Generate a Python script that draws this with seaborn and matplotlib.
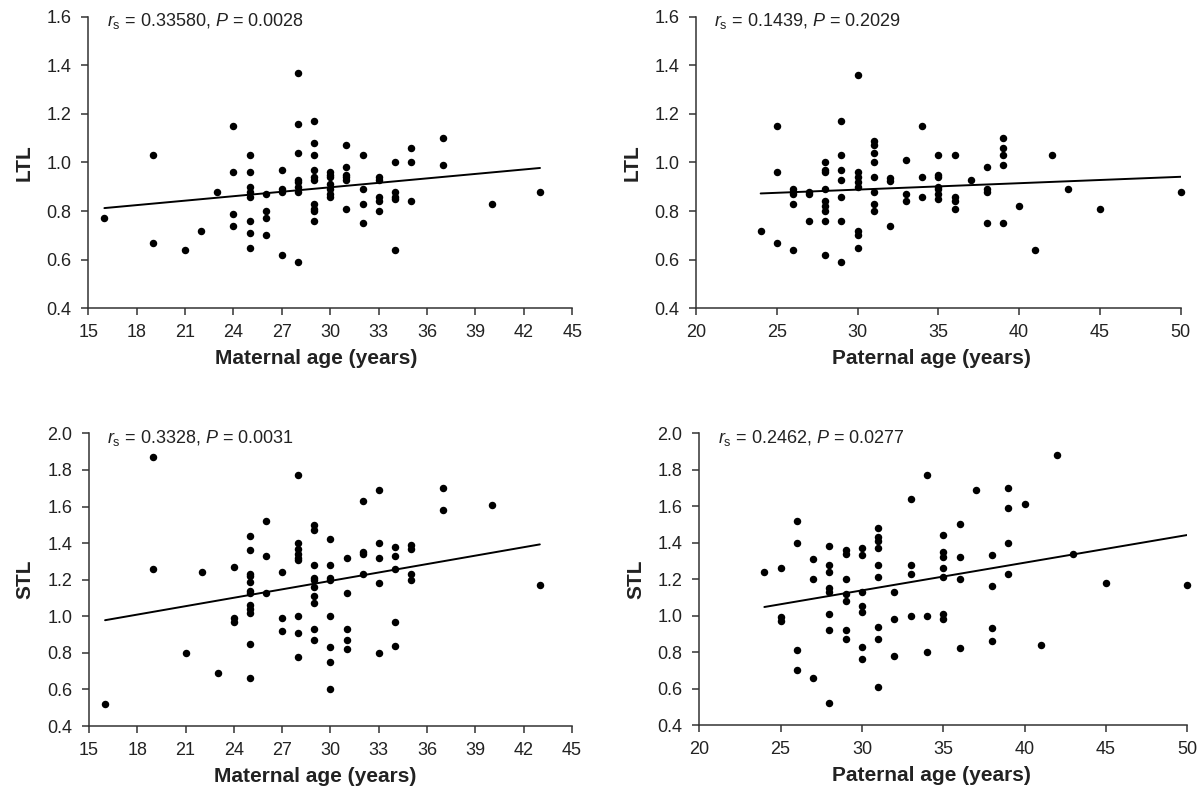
import matplotlib
matplotlib.use("Agg")
import matplotlib.pyplot as plt
import seaborn as sns
import pandas as pd

# ---------------- data ----------------
# Panel A: maternal age vs LTL
mat_age_ltl = [16, 19, 19, 21, 22, 23,
               24, 24, 24, 24,
               25, 25, 25, 25, 25, 25, 25, 25,
               26, 26, 26, 26,
               27, 27, 27, 27,
               28, 28, 28, 28, 28, 28, 28, 28,
               29, 29, 29, 29, 29, 29, 29, 29, 29, 29,
               30, 30, 30, 30, 30, 30, 30,
               31, 31, 31, 31, 31, 31,
               32, 32, 32, 32,
               33, 33, 33, 33, 33,
               34, 34, 34, 34, 34,
               35, 35, 35,
               37, 37, 40, 43]
ltl_mat = [0.77, 1.03, 0.67, 0.64, 0.72, 0.88,
           1.15, 0.96, 0.79, 0.74,
           1.03, 0.96, 0.90, 0.88, 0.86, 0.76, 0.71, 0.65,
           0.87, 0.80, 0.77, 0.70,
           0.97, 0.89, 0.88, 0.62,
           1.37, 1.16, 1.04, 0.93, 0.92, 0.90, 0.88, 0.59,
           1.17, 1.08, 1.03, 0.97, 0.94, 0.93, 0.83, 0.81, 0.80, 0.76,
           0.96, 0.95, 0.94, 0.91, 0.89, 0.87, 0.86,
           1.07, 0.98, 0.95, 0.94, 0.93, 0.81,
           1.03, 0.89, 0.83, 0.75,
           0.94, 0.93, 0.86, 0.84, 0.80,
           1.00, 0.88, 0.86, 0.85, 0.64,
           1.06, 1.00, 0.84,
           1.10, 0.99, 0.83, 0.88]

# Panel B: paternal age vs LTL
pat_age_ltl = [24, 25, 25, 25,
               26, 26, 26, 26, 26,
               27, 27, 27,
               28, 28, 28, 28, 28, 28, 28, 28, 28,
               29, 29, 29, 29, 29, 29, 29,
               30, 30, 30, 30, 30, 30, 30, 30,
               31, 31, 31, 31, 31, 31, 31, 31,
               32, 32, 32,
               33, 33, 33,
               34, 34, 34,
               35, 35, 35, 35, 35, 35, 35,
               36, 36, 36, 36,
               37,
               38, 38, 38, 38,
               39, 39, 39, 39, 39,
               40, 41, 42, 43, 45, 50]
ltl_pat = [0.72, 1.15, 0.96, 0.67,
           0.89, 0.88, 0.87, 0.83, 0.64,
           0.88, 0.87, 0.76,
           1.00, 0.97, 0.96, 0.89, 0.84, 0.82, 0.80, 0.76, 0.62,
           1.17, 1.03, 0.97, 0.93, 0.86, 0.76, 0.59,
           1.36, 0.96, 0.94, 0.92, 0.90, 0.72, 0.70, 0.65,
           1.09, 1.07, 1.04, 1.00, 0.94, 0.88, 0.83, 0.80,
           0.935, 0.925, 0.74,
           1.01, 0.87, 0.84,
           1.15, 0.94, 0.86,
           1.03, 0.95, 0.94, 0.90, 0.89, 0.87, 0.85,
           1.03, 0.86, 0.84, 0.81,
           0.93,
           0.98, 0.89, 0.88, 0.75,
           1.10, 1.06, 1.03, 0.99, 0.75,
           0.82, 0.64, 1.03, 0.89, 0.81, 0.88]

# Panel C: maternal age vs STL
mat_age_stl = [16, 19, 19, 21, 22, 23,
               24, 24, 24,
               25, 25, 25, 25, 25, 25, 25, 25, 25, 25, 25, 25,
               26, 26, 26,
               27, 27, 27,
               28, 28, 28, 28, 28, 28, 28, 28, 28,
               29, 29, 29, 29, 29, 29, 29, 29, 29, 29,
               30, 30, 30, 30, 30, 30, 30, 30,
               31, 31, 31, 31, 31,
               32, 32, 32, 32,
               33, 33, 33, 33, 33,
               34, 34, 34, 34, 34,
               35, 35, 35, 35,
               37, 37, 40, 43]
stl_mat = [0.52, 1.87, 1.26, 0.80, 1.24, 0.69,
           1.27, 0.99, 0.97,
           1.44, 1.36, 1.23, 1.22, 1.19, 1.14, 1.13, 1.06, 1.04, 1.02, 0.85, 0.66,
           1.52, 1.33, 1.13,
           1.24, 0.99, 0.92,
           1.77, 1.40, 1.37, 1.34, 1.32, 1.31, 1.00, 0.91, 0.78,
           1.50, 1.47, 1.28, 1.21, 1.20, 1.16, 1.11, 1.07, 0.93, 0.87,
           1.42, 1.28, 1.21, 1.20, 1.00, 0.83, 0.75, 0.60,
           1.32, 1.13, 0.93, 0.87, 0.82,
           1.63, 1.35, 1.34, 1.23,
           1.69, 1.40, 1.32, 1.18, 0.80,
           1.38, 1.33, 1.26, 0.97, 0.84,
           1.39, 1.37, 1.23, 1.20,
           1.70, 1.58, 1.61, 1.17]

# Panel D: paternal age vs STL
pat_age_stl = [24, 25, 25, 25,
               26, 26, 26, 26,
               27, 27, 27,
               28, 28, 28, 28, 28, 28, 28, 28,
               29, 29, 29, 29, 29, 29, 29,
               30, 30, 30, 30, 30, 30, 30,
               31, 31, 31, 31, 31, 31, 31, 31, 31,
               32, 32, 32,
               33, 33, 33, 33,
               34, 34, 34,
               35, 35, 35, 35, 35, 35, 35,
               36, 36, 36, 36,
               37,
               38, 38, 38, 38,
               39, 39, 39, 39,
               40, 41, 42, 43, 45, 50]
stl_pat = [1.24, 1.26, 0.99, 0.97,
           1.52, 1.40, 0.81, 0.70,
           1.31, 1.20, 0.66,
           1.38, 1.28, 1.24, 1.15, 1.13, 1.01, 0.92, 0.52,
           1.36, 1.34, 1.20, 1.12, 1.08, 0.92, 0.87,
           1.37, 1.33, 1.13, 1.05, 1.02, 0.83, 0.76,
           1.48, 1.43, 1.41, 1.37, 1.28, 1.21, 0.94, 0.87, 0.61,
           1.13, 0.98, 0.78,
           1.64, 1.28, 1.23, 1.00,
           1.77, 1.00, 0.80,
           1.44, 1.35, 1.32, 1.26, 1.21, 1.01, 0.98,
           1.50, 1.32, 1.20, 0.82,
           1.69,
           1.33, 1.16, 0.93, 0.86,
           1.70, 1.59, 1.40, 1.23,
           1.61, 0.84, 1.88, 1.34, 1.18, 1.17]

annotations = [r"$r_{\rm s}$ = 0.33580, $P$ = 0.0028",
               r"$r_{\rm s}$ = 0.1439, $P$ = 0.2029",
               r"$r_{\rm s}$ = 0.3328, $P$ = 0.0031",
               r"$r_{\rm s}$ = 0.2462, $P$ = 0.0277"]
x_labels = ["Maternal age (years)", "Paternal age (years)",
            "Maternal age (years)", "Paternal age (years)"]
y_labels = ["LTL", "LTL", "STL", "STL"]

maternal_ticks = [15, 18, 21, 24, 27, 30, 33, 36, 39, 42, 45]
paternal_ticks = [20, 25, 30, 35, 40, 45, 50]
ltl_ticks = [0.4, 0.6, 0.8, 1.0, 1.2, 1.4, 1.6]
stl_ticks = [0.4, 0.6, 0.8, 1.0, 1.2, 1.4, 1.6, 1.8, 2.0]

# ---------------- styling ----------------
sns.set_theme(style="ticks")
plt.rcParams["font.family"] = ["Liberation Sans", "DejaVu Sans"]
plt.rcParams["mathtext.fontset"] = "custom"
plt.rcParams["mathtext.rm"] = "Liberation Sans"
plt.rcParams["mathtext.it"] = "Liberation Sans:italic"
plt.rcParams["mathtext.bf"] = "Liberation Sans:bold"
plt.rcParams["xtick.major.size"] = 5
plt.rcParams["ytick.major.size"] = 5

TXT = "#222222"
AX = "#333333"

fig = plt.figure(figsize=(12.04, 7.94), dpi=100)

positions = [
    [0.0733, 0.6117, 0.4020, 0.3673],
    [0.5781, 0.6117, 0.4026, 0.3673],
    [0.0739, 0.0856, 0.4012, 0.3686],
    [0.5808, 0.0869, 0.4053, 0.3674],
]
xlabel_x = [0.471, 0.485, 0.469, 0.475]

panels = [
    (mat_age_ltl, ltl_mat, maternal_ticks, ltl_ticks),
    (pat_age_ltl, ltl_pat, paternal_ticks, ltl_ticks),
    (mat_age_stl, stl_mat, maternal_ticks, stl_ticks),
    (pat_age_stl, stl_pat, paternal_ticks, stl_ticks),
]

for i, (xs, ys, xt, yt) in enumerate(panels):
    ax = fig.add_axes(positions[i])
    df = pd.DataFrame({"age": xs, "tl": ys})
    sns.regplot(data=df, x="age", y="tl", ax=ax, ci=None, color="black",
                scatter_kws={"s": 29, "linewidths": 0, "alpha": 1},
                line_kws={"lw": 1.4, "color": "black"})
    ax.set_xlim(xt[0], xt[-1])
    ax.set_ylim(yt[0], yt[-1])
    ax.set_xticks(xt)
    ax.set_yticks(yt)
    ax.set_xticklabels([str(v) for v in xt])
    ax.set_yticklabels([f"{v:.1f}" for v in yt])
    sns.despine(ax=ax)
    for s in ["left", "bottom"]:
        ax.spines[s].set_color(AX)
        ax.spines[s].set_linewidth(1.1)
    ax.tick_params(axis="both", which="major", direction="out", length=5,
                   width=1.1, color=AX, labelsize=13, labelcolor=TXT)
    ax.tick_params(axis="x", pad=6.5)
    ax.tick_params(axis="y", pad=7)
    ax.set_xlabel(x_labels[i], fontsize=15, fontweight="bold", color=TXT)
    ax.set_ylabel(y_labels[i], fontsize=15, fontweight="bold", color=TXT,
                  labelpad=9)
    ax.xaxis.set_label_coords(xlabel_x[i], -0.14)
    ax.text(0.038, 0.985, annotations[i], transform=ax.transAxes,
            fontsize=13, color=TXT, ha="left", va="center")
    for c in ax.collections:
        c.set_clip_on(False)

fig.savefig("out.png", dpi=100, facecolor="white")
